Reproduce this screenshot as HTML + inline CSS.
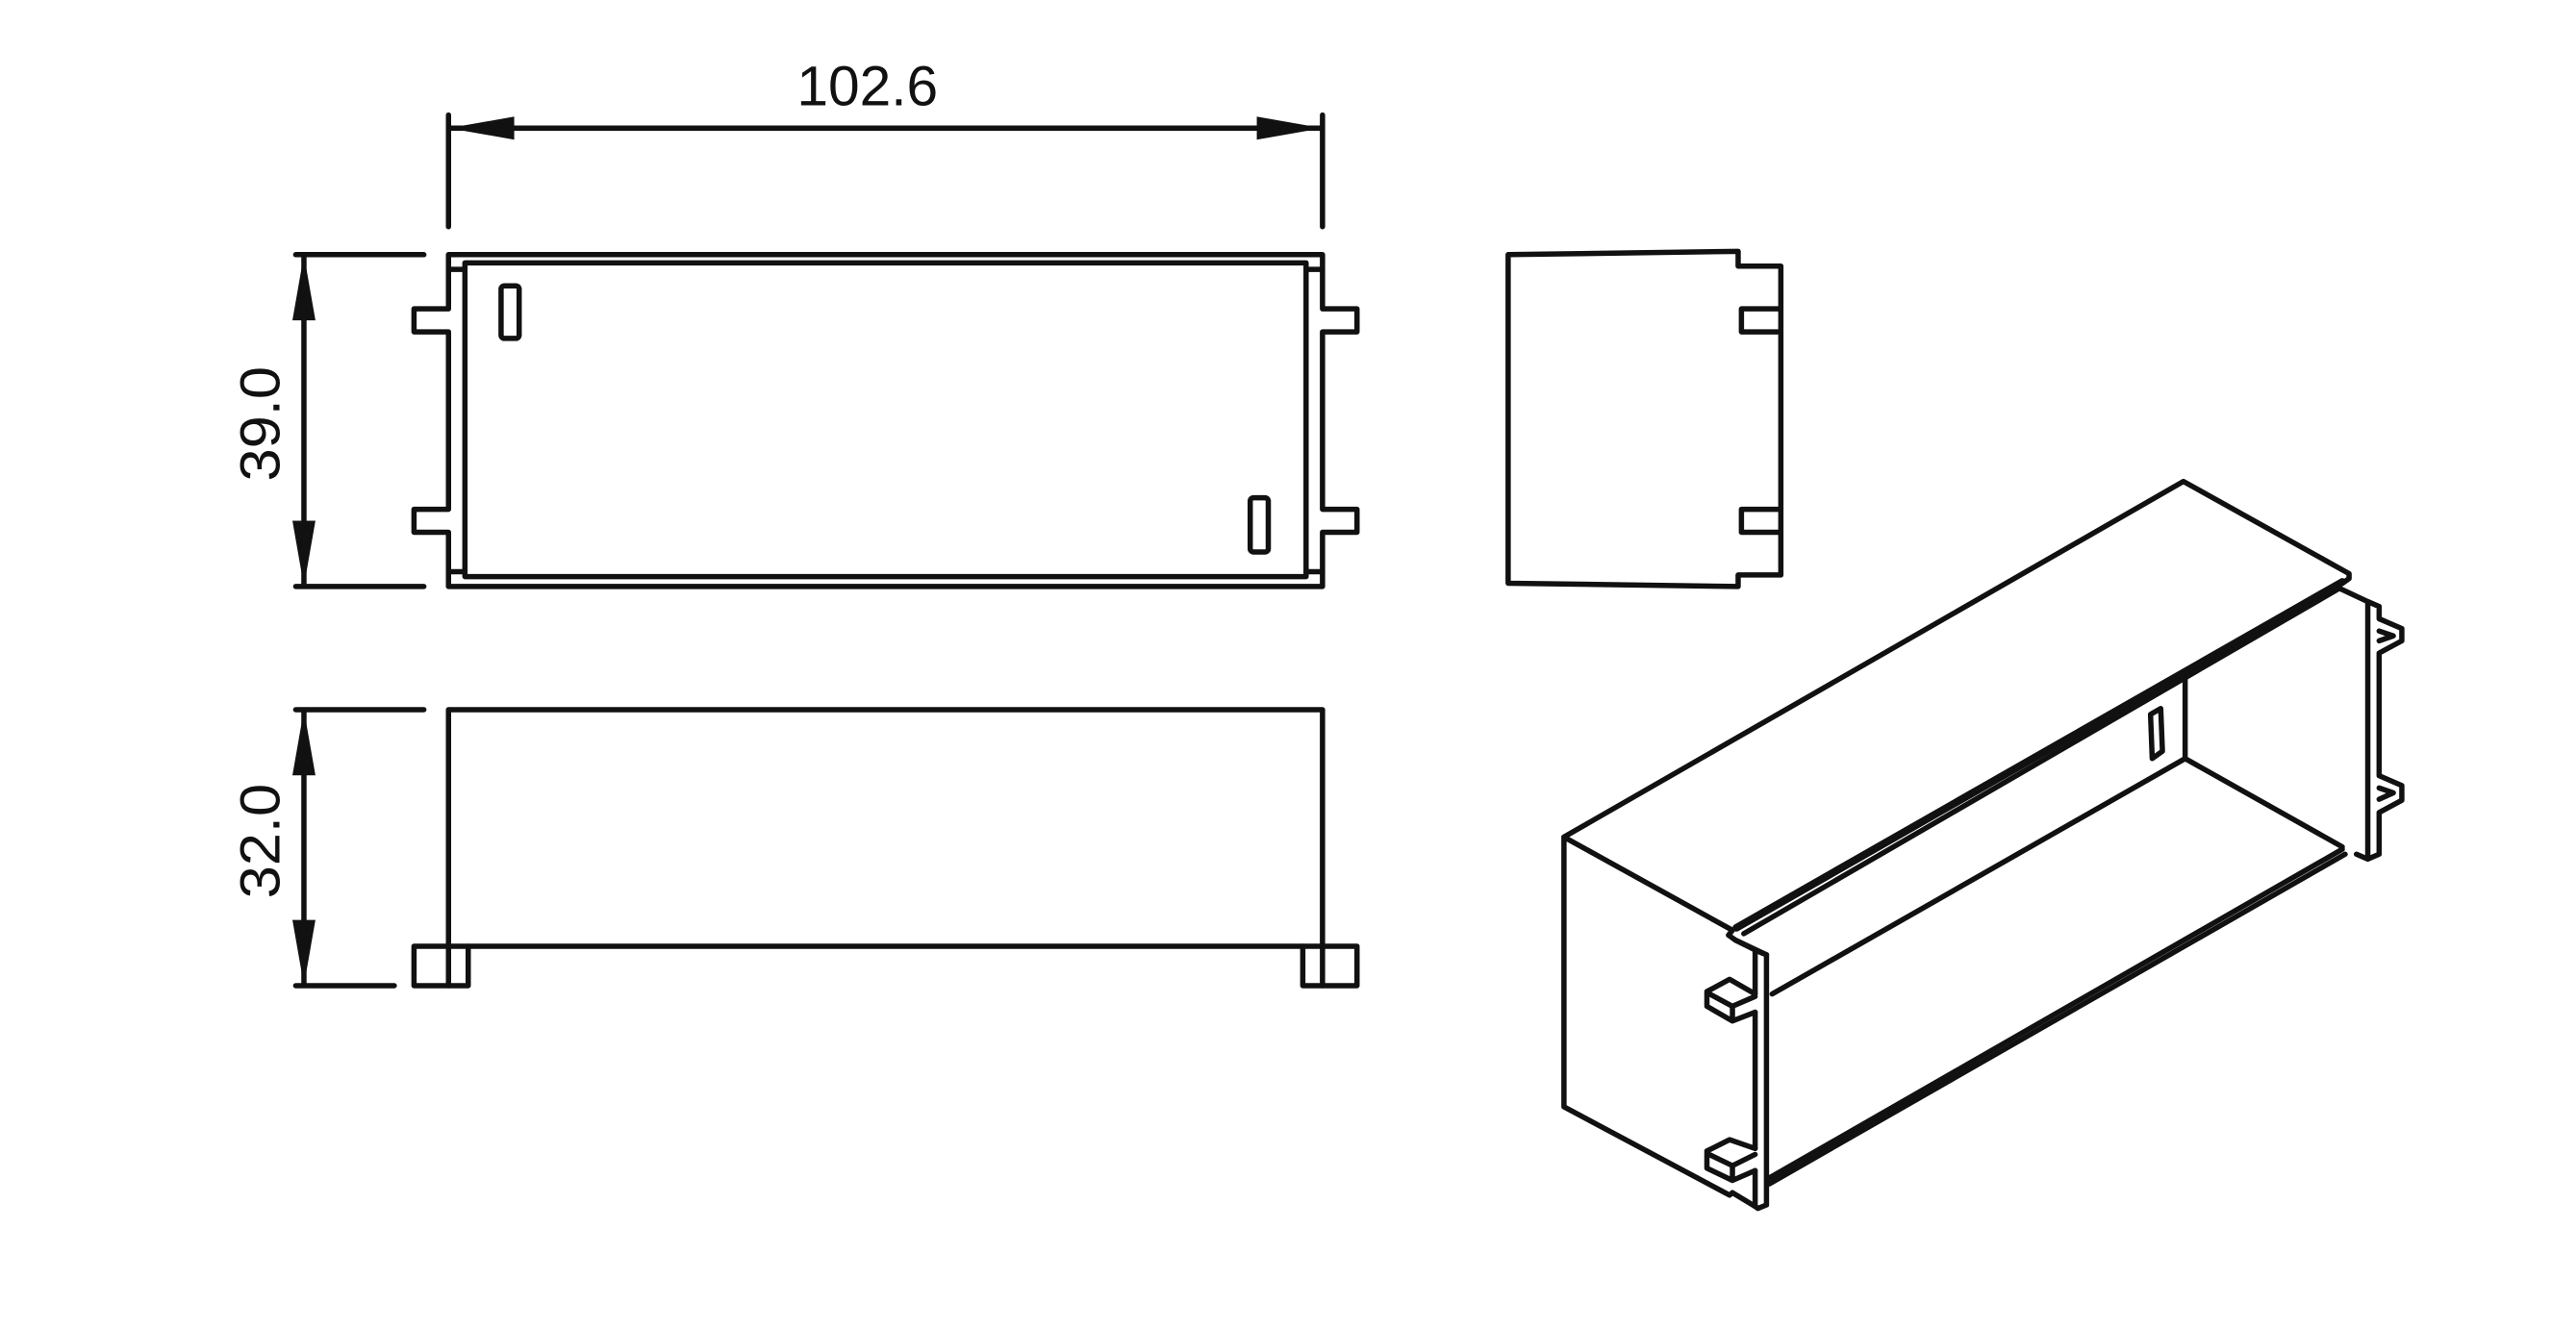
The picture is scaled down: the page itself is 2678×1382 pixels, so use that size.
<!DOCTYPE html>
<html><head><meta charset="utf-8"><style>
html,body{margin:0;padding:0;background:#fff;}
svg{display:block;}
</style></head><body>
<svg width="2678" height="1382" viewBox="0 0 1568 809" preserveAspectRatio="none" xmlns="http://www.w3.org/2000/svg">
<g fill="none" stroke="#111" stroke-width="5.5" stroke-linejoin="round" stroke-linecap="round">
<g>
<path vector-effect="non-scaling-stroke" d="M273,70 L273,138 M805,70 L805,138 M273,78 L805,78"/>
<path vector-effect="non-scaling-stroke" d="M185,155 L185,357 M180,155 L258,155 M180,357 L258,357"/>
<path vector-effect="non-scaling-stroke" d="M185,432 L185,600 M180,432 L258,432 M180,600 L240,600"/>
<path vector-effect="non-scaling-stroke" d="M273,155 L805,155 L805,188 L826,188 L826,202 L805,202 L805,310 L826,310 L826,324 L805,324 L805,357 L273,357 L273,324 L252,324 L252,310 L273,310 L273,202 L252,202 L252,188 L273,188 Z"/>
<path vector-effect="non-scaling-stroke" d="M283,160 L795,160 L795,351 L283,351 Z M273,164 L283,164 M273,348 L283,348 M795,164 L805,164 M795,348 L805,348"/>
<rect vector-effect="non-scaling-stroke" x="305" y="174" width="11" height="32" rx="2"/>
<rect vector-effect="non-scaling-stroke" x="761" y="303" width="11" height="33" rx="2"/>
<path vector-effect="non-scaling-stroke" d="M273,600 L273,432 L805,432 L805,600 M285,576 L793,576"/>
<rect vector-effect="non-scaling-stroke" x="252" y="576" width="33" height="24"/>
<rect vector-effect="non-scaling-stroke" x="793" y="576" width="33" height="24"/>
<path vector-effect="non-scaling-stroke" d="M918,155 L1058,153 L1058,162 L1084,162 L1084,350 L1058,350 L1058,357 L918,355 Z M1084,188 L1060,188 L1060,202 L1084,202 M1084,310 L1060,310 L1060,324 L1084,324"/>
</g>
<g transform="translate(935.4,281.1) scale(0.3453,0.2986)">
<path vector-effect="non-scaling-stroke" d="M48,765 L1140,40 L1432,228 L1432,238 L1420,248"/>
<path vector-effect="non-scaling-stroke" d="M48,765 L345,955 L338,965 L350,975 L390,998 L405,1005 L405,1515 L390,1522 L385,1518 L345,1490 L340,1495 L48,1315 Z"/>
<path vector-effect="non-scaling-stroke" d="M385,998 L385,1085 M385,1122 L385,1400 M385,1445 L385,1518 M350,975 L405,1005"/>
<path vector-effect="non-scaling-stroke" d="M385,1085 L340,1055 L300,1080 L300,1110 L345,1140 L385,1122 M300,1082 L345,1110 L385,1090 M345,1110 L345,1140"/>
<path vector-effect="non-scaling-stroke" d="M385,1400 L340,1382 L300,1405 L300,1440 L345,1465 L385,1445 M300,1410 L345,1435 L385,1412 M345,1435 L345,1465"/>
<path vector-effect="non-scaling-stroke" stroke-width="8" d="M352,950 L1420,245"/>
<path vector-effect="non-scaling-stroke" d="M365,962 L1415,258 L1465,285 L1485,295 L1485,320 L1525,340 L1525,365 L1485,390 L1485,640 L1525,660 L1525,690 L1485,715 L1485,800 L1465,810 L1445,800 M1465,285 L1465,808 M1485,345 L1510,355 L1485,365 M1485,665 L1510,675 L1485,688"/>
<path vector-effect="non-scaling-stroke" d="M1143,440 L1143,605 M415,1085 L1143,605 L1420,785"/>
<path vector-effect="non-scaling-stroke" d="M410,1460 L1420,790 M410,1472 L1425,800"/>
<path vector-effect="non-scaling-stroke" d="M1082,515 L1100,503 L1103,590 L1085,605 Z"/>
</g>
</g>
<g fill="#111" stroke="none">
<polygon points="273,78 313,71 313,85"/>
<polygon points="805,78 765,71 765,85"/>
<polygon points="185,155 178,195 192,195"/>
<polygon points="185,357 178,317 192,317"/>
<polygon points="185,432 178,472 192,472"/>
<polygon points="185,600 178,560 192,560"/>
</g>
<g font-family="'Liberation Sans', sans-serif" font-size="34" fill="#111" text-anchor="middle">
<text x="528" y="64" textLength="86" lengthAdjust="spacingAndGlyphs">102.6</text>
<text transform="translate(170,258) rotate(-90)" textLength="70" lengthAdjust="spacingAndGlyphs">39.0</text>
<text transform="translate(170,512) rotate(-90)" textLength="70" lengthAdjust="spacingAndGlyphs">32.0</text>
</g>
</svg>
</body></html>
